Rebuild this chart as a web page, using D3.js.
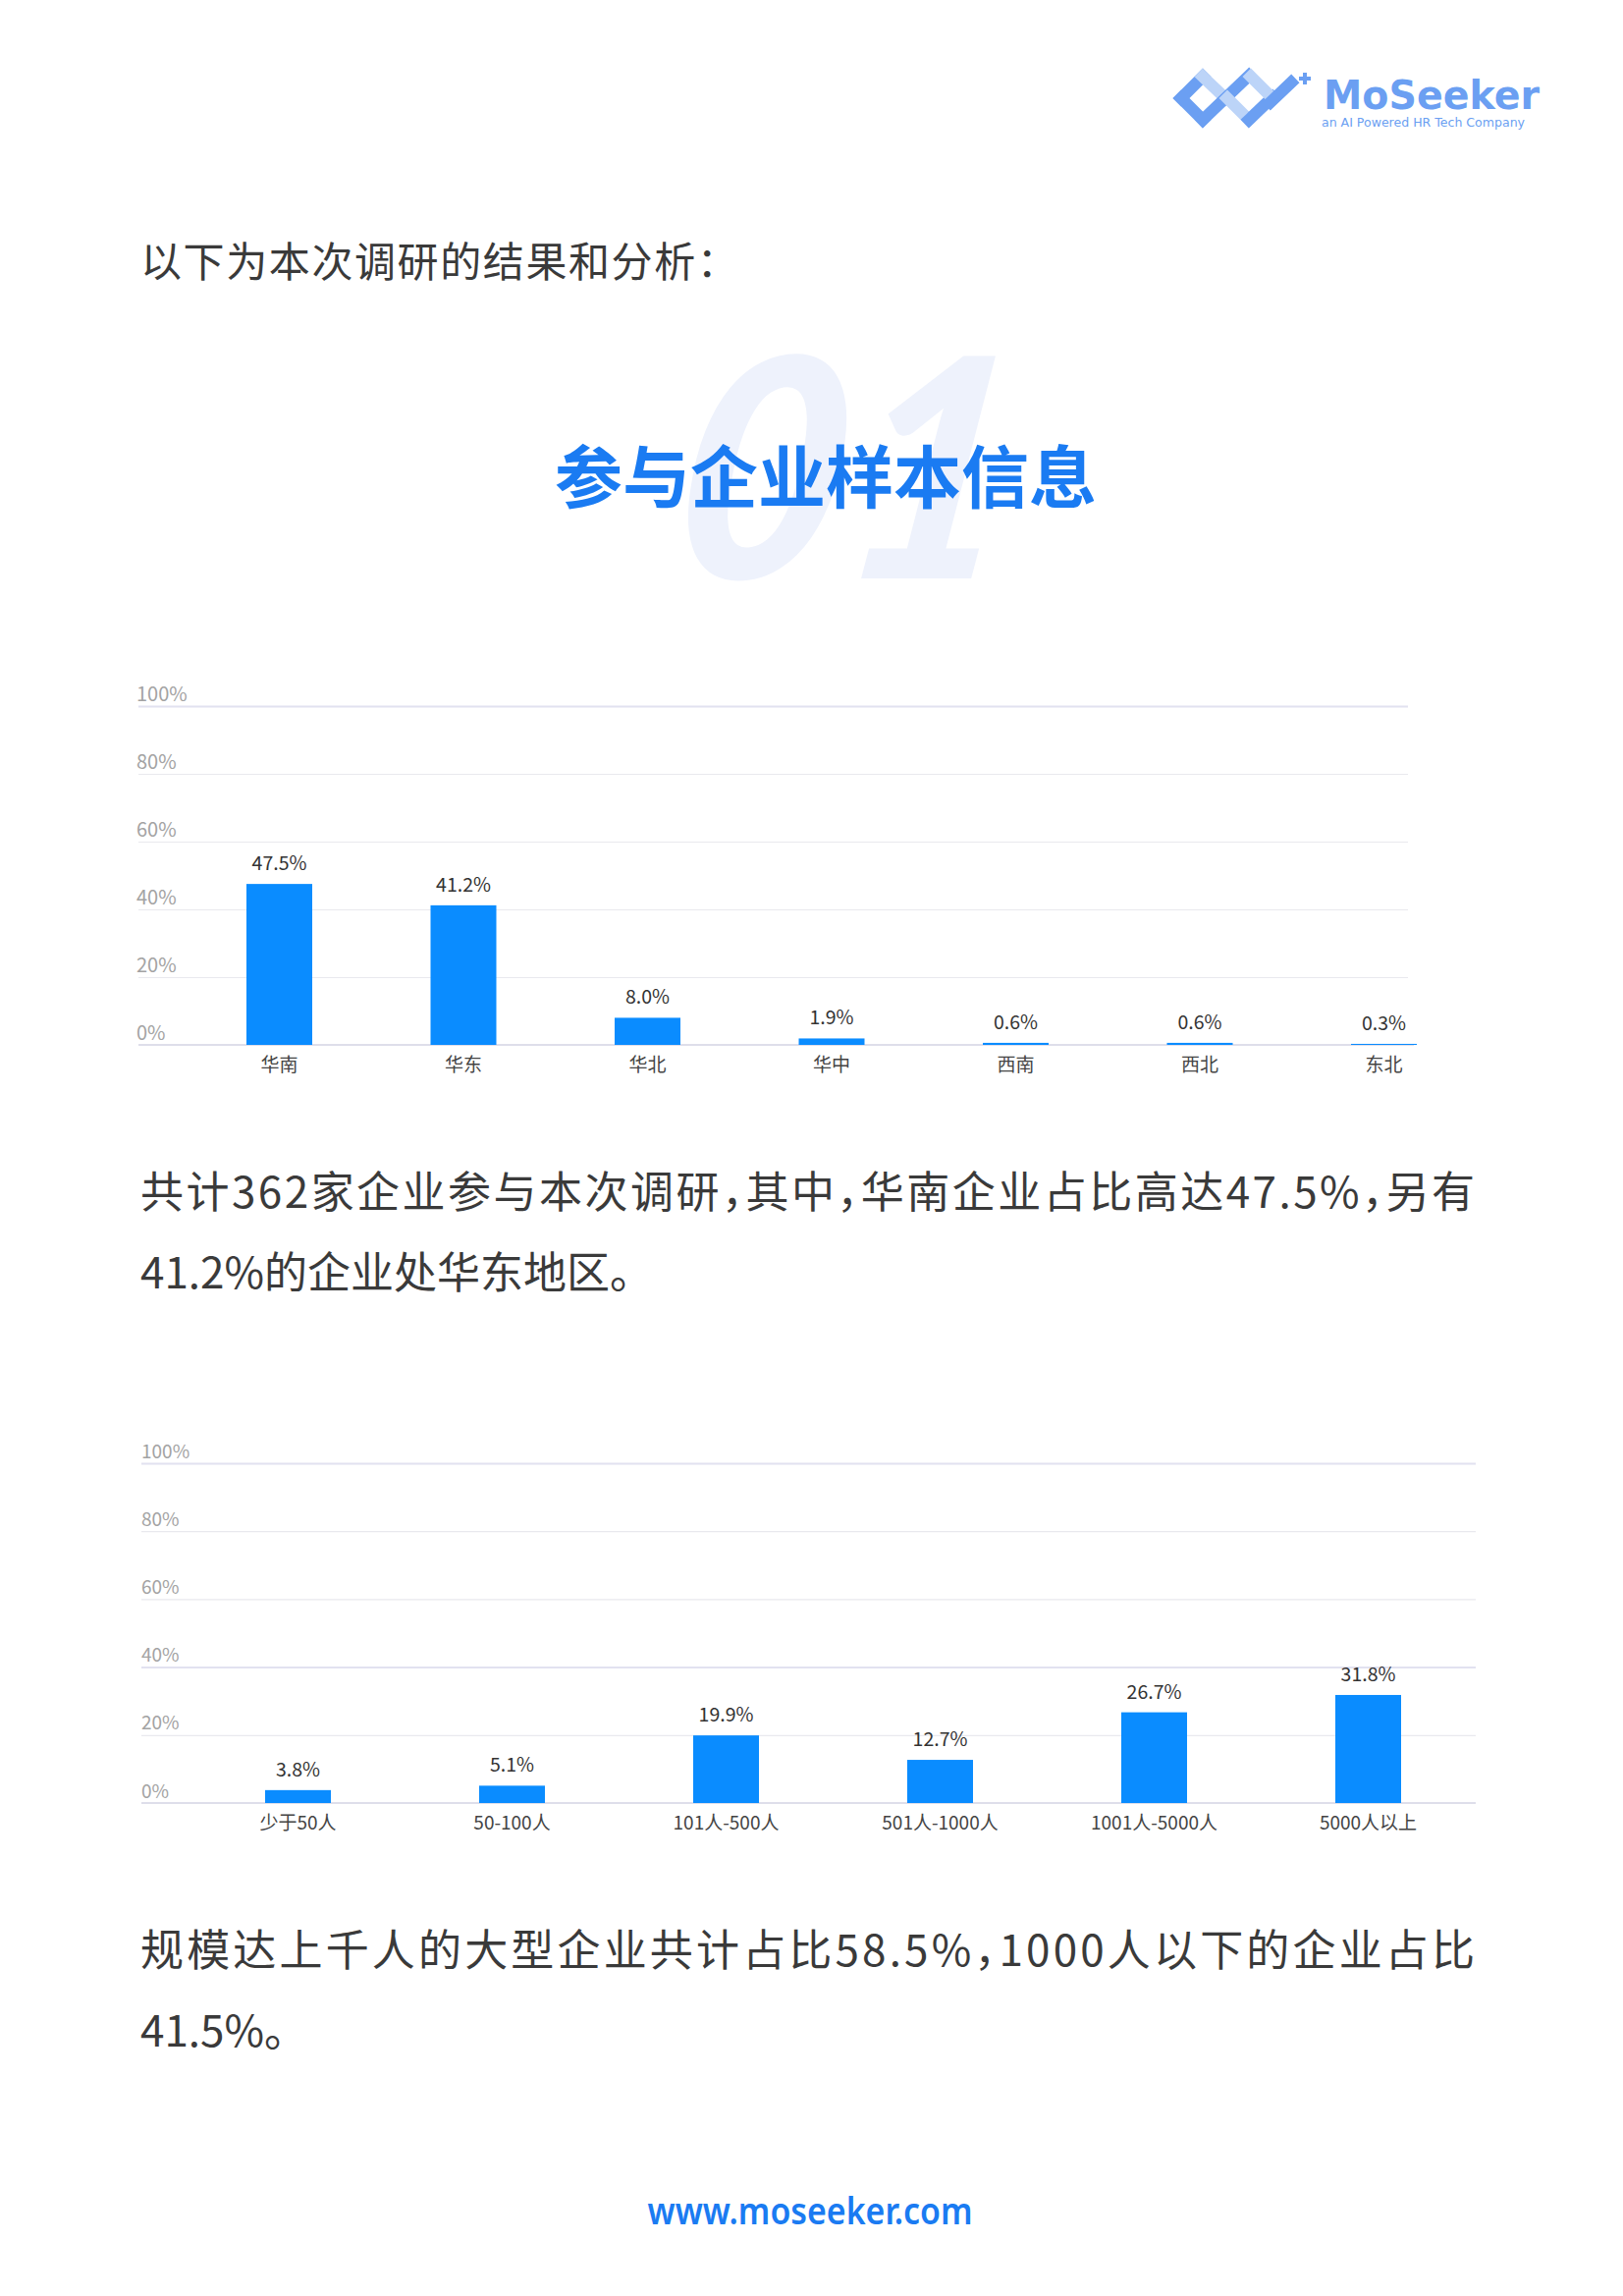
<!DOCTYPE html>
<html>
<head>
<meta charset="utf-8">
<script src="https://cdn.jsdelivr.net/npm/d3@7"></script>
<style>
  html, body { margin: 0; padding: 0; background: #ffffff; }
  svg { display: block; }
  text { font-family: "Noto Sans CJK SC", "Noto Sans", sans-serif; }
</style>
</head>
<body>
<svg id="page" width="1653" height="2338"></svg>
<script>
// ---------- data ----------
const regions = ["华南", "华东", "华北", "华中", "西南", "西北", "东北"];
const regionValues = [47.5, 41.2, 8.0, 1.9, 0.6, 0.6, 0.3];
const sizes = ["少于50人", "50-100人", "101人-500人", "501人-1000人", "1001人-5000人", "5000人以上"];
const sizeValues = [3.8, 5.1, 19.9, 12.7, 26.7, 31.8];
const yTicks = [0, 20, 40, 60, 80, 100];
const introText = "以下为本次调研的结果和分析：";
const sectionTitle = "参与企业样本信息";
const sectionNumber = "01";
const para1 = ["共计362家企业参与本次调研，其中，华南企业占比高达47.5%，另有", "41.2%的企业处华东地区。"];
const para2 = ["规模达上千人的大型企业共计占比58.5%，1000人以下的企业占比", "41.5%。"];
const footerText = "www.moseeker.com";

const svg = d3.select("#page");
const BLUE_BAR = "#0a8cff";
const TEXT = "#3a3a3a";

// ---------- logo ----------
const logo = svg.append("g");
const dark = "#6b9ff2", light = "#bcd4f8";
const segs = [
  [[1203,100],[1225,78], dark],
  [[1225,78],[1248,100], light],
  [[1203,100],[1225,122], dark],
  [[1225,122],[1272,77], dark],
  [[1250,100],[1272,122], light],
  [[1272,122],[1296,99], dark],
  [[1274,78],[1296,100], light],
  [[1294,104],[1315,84], dark]
];
segs.forEach(s => {
  logo.append("line").attr("x1", s[0][0]).attr("y1", s[0][1]).attr("x2", s[1][0]).attr("y2", s[1][1])
    .attr("stroke", s[2]).attr("stroke-width", 12).attr("stroke-linecap", "square");
});
logo.append("path").attr("d", "M1323,80 h12 M1329,74 v12").attr("stroke", dark).attr("stroke-width", 4);
logo.append("text").attr("x", 1348).attr("y", 111).attr("textLength", 220).attr("lengthAdjust", "spacingAndGlyphs")
  .style("font-family", "'DejaVu Sans', sans-serif").style("font-weight", 700).style("font-size", "40px")
  .attr("fill", dark).text("MoSeeker");
logo.append("text").attr("x", 1346).attr("y", 129).attr("textLength", 207).attr("lengthAdjust", "spacingAndGlyphs")
  .style("font-family", "'DejaVu Sans', sans-serif").style("font-size", "13px")
  .attr("fill", dark).text("an AI Powered HR Tech Company");

// ---------- intro ----------
svg.append("text").attr("x", 143).attr("y", 282).style("font-size", "42px").style("letter-spacing", "1.6px")
  .attr("fill", TEXT).text(introText);

// ---------- section heading ----------
svg.append("text").attr("transform", "translate(850,589) skewX(-8)").attr("text-anchor", "middle")
  .attr("textLength", 345).attr("lengthAdjust", "spacingAndGlyphs")
  .style("font-family", "Lato, 'Open Sans', sans-serif").style("font-weight", 900).style("font-style", "italic")
  .style("font-size", "312px").attr("fill", "#eef2fc").text(sectionNumber);
svg.append("text").attr("x", 841).attr("y", 512).attr("text-anchor", "middle")
  .style("font-size", "69px").style("font-weight", 700).attr("fill", "#1a7bf2").text(sectionTitle);

// ---------- bar chart helper ----------
function barChart(cfg) {
  const g = svg.append("g");
  const x = d3.scaleBand().domain(cfg.cats).range(cfg.xRange)
    .paddingInner(cfg.pad).paddingOuter(cfg.pad / 2);
  const y = d3.scaleLinear().domain([0, 100]).range([cfg.y0, cfg.y100]);

  const gridW = cfg.gridX[1] - cfg.gridX[0];
  const yAxis = g.append("g").attr("transform", `translate(${cfg.gridX[0]},0)`)
    .call(d3.axisRight(y).tickValues(yTicks).tickSize(gridW).tickFormat(d => d + "%"));
  yAxis.select(".domain").remove();
  yAxis.selectAll(".tick line")
    .attr("stroke", d => cfg.strong.includes(d) ? "#e2e2f0" : "#e9e9ee")
    .attr("stroke-width", d => cfg.strong.includes(d) ? 2 : 1.2);
  yAxis.selectAll(".tick line").filter(d => d === 0).remove();
  yAxis.selectAll(".tick text").attr("x", cfg.tickLabelDx).attr("dy", null).attr("y", -6)
    .attr("text-anchor", "start").attr("fill", "#a3a3a3")
    .style("font-size", cfg.tickFont + "px").style("font-family", "'Noto Sans CJK SC', sans-serif");

  g.append("line").attr("x1", cfg.gridX[0]).attr("x2", cfg.axisEnd)
    .attr("y1", y(0)).attr("y2", y(0)).attr("stroke", "#dedeea").attr("stroke-width", 2);

  g.selectAll("rect.bar").data(cfg.vals).join("rect").attr("class", "bar")
    .attr("x", (d, i) => x(cfg.cats[i])).attr("width", x.bandwidth())
    .attr("y", d => y(d)).attr("height", d => y(0) - y(d)).attr("fill", BLUE_BAR);

  g.selectAll("text.val").data(cfg.vals).join("text").attr("class", "val")
    .attr("x", (d, i) => x(cfg.cats[i]) + x.bandwidth() / 2).attr("y", d => y(d) - 14)
    .attr("text-anchor", "middle").attr("fill", "#333").style("font-size", "19.5px")
    .text(d => d3.format(".1f")(d) + "%");

  const xAxis = g.append("g").attr("transform", `translate(0,${y(0)})`)
    .call(d3.axisBottom(x).tickSize(0));
  xAxis.select(".domain").remove();
  xAxis.selectAll(".tick text").attr("dy", null).attr("y", 27).attr("fill", "#444")
    .style("font-size", "19px").style("font-family", "'Noto Sans CJK SC', sans-serif");
}

barChart({
  cats: regions, vals: regionValues,
  xRange: [190.75, 1503.25], pad: 1 - 67 / 187.5,
  y0: 1064, y100: 719, gridX: [141, 1434], axisEnd: 1440, tickLabelDx: -2, tickFont: 20, strong: [100]
});

barChart({
  cats: sizes, vals: sizeValues,
  xRange: [194.5, 1502.5], pad: 1 - 67 / 218,
  y0: 1836, y100: 1490, gridX: [144, 1503], axisEnd: 1503, tickLabelDx: 0, tickFont: 19, strong: [100, 40]
});

// ---------- paragraphs ----------
function para(lines, y0) {
  lines.forEach((t, i) => {
    const el = svg.append("text").attr("x", 143).attr("y", y0 + i * 82)
      .style("font-size", "44px").style("font-feature-settings", "'halt' 1")
      .attr("fill", TEXT).text(t);
    if (i === 0) el.attr("textLength", 1359).attr("lengthAdjust", "spacing");
  });
}
para(para1, 1230);
para(para2, 2002);

// ---------- footer ----------
svg.append("text").attr("x", 825).attr("y", 2265).attr("text-anchor", "middle")
  .attr("textLength", 331).attr("lengthAdjust", "spacingAndGlyphs")
  .style("font-family", "'Noto Sans', 'Open Sans', sans-serif").style("font-weight", 600).style("font-size", "37px")
  .attr("fill", "#1a7bf2").text(footerText);
</script>
</body>
</html>
